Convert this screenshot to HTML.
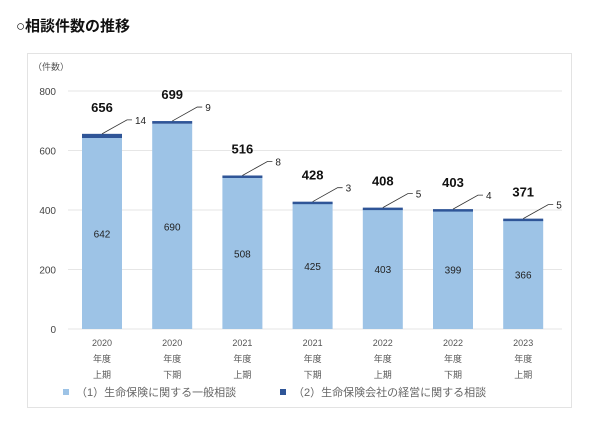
<!DOCTYPE html>
<html><head><meta charset="utf-8"><style>
body{margin:0;background:#fff;width:600px;height:442px;overflow:hidden;font-family:"Liberation Sans","Noto Sans CJK JP",sans-serif}
</style></head><body>
<svg width="600" height="442" xmlns="http://www.w3.org/2000/svg" font-family="Liberation Sans, Noto Sans CJK JP, sans-serif">
<text x="16" y="31" font-size="15" font-weight="bold" fill="#111">○相談件数の推移</text>
<rect x="27.5" y="53.5" width="544" height="354" fill="#fff" stroke="#e3e3e3"/>
<text x="33" y="70" font-size="9" fill="#555">（件数）</text>
<g id="grid"></g><g id="bars"></g><g id="labels"></g>
<g>
<rect x="63" y="389" width="6" height="6" fill="#9dc3e6"/>
<text x="76" y="396" font-size="11" fill="#666">（1）生命保険に関する一般相談</text>
<rect x="280" y="389" width="6" height="6" fill="#2f5597"/>
<text x="293" y="396" font-size="11" fill="#666">（2）生命保険会社の経営に関する相談</text>
</g>
</svg>
<script>
const categoriesYear=["2020","2020","2021","2021","2022","2022","2023"];
const categoriesHalf=["上期","下期","上期","下期","上期","下期","上期"];
const generalValues=[642,690,508,425,403,399,366];
const managementValues=[14,9,8,3,5,4,5];
const totalValues=[656,699,516,428,408,403,371];
const yTicks=[0,200,400,600,800];
const NS="http://www.w3.org/2000/svg";
const y=v=>329-v*(238/800);
const x=i=>102+i*70.2;
function el(t,a,p,txt){const e=document.createElementNS(NS,t);for(const k in a)e.setAttribute(k,a[k]);if(txt!==undefined)e.textContent=txt;document.getElementById(p).appendChild(e);return e;}
yTicks.forEach(t=>{
 const l=el('line',{x1:68,x2:562,y1:y(t),y2:y(t),stroke:'#e6e6e6'},'grid');
 
 
 const tx=el('text',{x:56,y:y(t)+4,'font-size':10,fill:'#444','text-anchor':'end'},'grid',t);
 
 
});
generalValues.forEach((g,i)=>{
 const m=managementValues[i],cx=x(i);
 const b=el('rect',{x:cx-20,y:y(g),width:40,height:y(0)-y(g),fill:'#9dc3e6'},'bars');
 
 
 const b2=el('rect',{x:cx-20,y:y(g+m),width:40,height:Math.max(y(g)-y(g+m),2.5),fill:'#2f5597'},'bars');
 
 
 const v=el('text',{x:cx,y:(y(g)+y(0))/2+4,'font-size':10,fill:'#222','text-anchor':'middle'},'labels',g);
 
 
 const top=y(g+m);
 const ln=el('path',{d:`M${cx} ${top} L${cx+25} ${top-14} L${cx+30} ${top-14}`,stroke:'#333',fill:'none','stroke-width':0.8},'labels');
 
 
 const mv=el('text',{x:cx+33,y:top-10,'font-size':10,fill:'#222'},'labels',m);
 
 
 const tv=el('text',{x:cx,y:top-22,'font-size':13,'font-weight':'bold',fill:'#111','text-anchor':'middle'},'labels',totalValues[i]);
 
 
 [[categoriesYear[i],346],["年度",362],[categoriesHalf[i],378]].forEach((s,k)=>{
  const c=el('text',{x:cx,y:s[1],'font-size':9,fill:'#555','text-anchor':'middle'},'labels',s[0]);
  
  
 });
});
</script>
</body></html>
